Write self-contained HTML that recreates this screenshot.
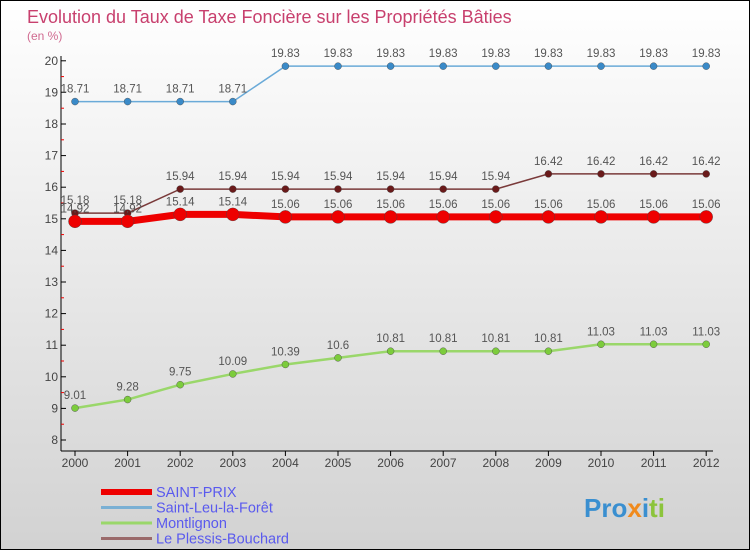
<!DOCTYPE html>
<html><head><meta charset="utf-8"><style>
body{margin:0;width:750px;height:550px;overflow:hidden;font-family:"Liberation Sans",sans-serif}
#wrap{position:relative;width:748px;height:548px;border:1px solid #000;background:linear-gradient(#ffffff,#d2d2d2)}
</style></head><body>
<div id="wrap">
<svg id="chart" width="748" height="548">
<text x="26" y="22" font-size="18" fill="#c8406e">Evolution du Taux de Taxe Foncière sur les Propriétés Bâties</text>
<text x="26" y="39" font-size="12" fill="#d06a90">(en %)</text>
<g id="axes"></g><g id="series"></g><g id="legend"></g>
<text x="583" y="516" font-size="26" font-weight="bold" fill="#3a8fd0">Pro<tspan fill="#f08a1c">x</tspan>i<tspan fill="#8cc43c">ti</tspan></text>
</svg></div>
<script>
const years=["2000","2001","2002","2003","2004","2005","2006","2007","2008","2009","2010","2011","2012"];
const yTicks=[8,9,10,11,12,13,14,15,16,17,18,19,20];
const saintPrix=[14.92,14.92,15.14,15.14,15.06,15.06,15.06,15.06,15.06,15.06,15.06,15.06,15.06];
const saintLeu=[18.71,18.71,18.71,18.71,19.83,19.83,19.83,19.83,19.83,19.83,19.83,19.83,19.83];
const montlignon=[9.01,9.28,9.75,10.09,10.39,10.6,10.81,10.81,10.81,10.81,11.03,11.03,11.03];
const plessis=[15.18,15.18,15.94,15.94,15.94,15.94,15.94,15.94,15.94,16.42,16.42,16.42,16.42];
const seriesNames=["SAINT-PRIX","Saint-Leu-la-Forêt","Montlignon","Le Plessis-Bouchard"];
const NS="http://www.w3.org/2000/svg";
const X=i=>74+i*52.6, Y=v=>439-(v-8)*31.6;
function mk(t,a,p){const e=document.createElementNS(NS,t);for(const k in a)e.setAttribute(k,a[k]);p.appendChild(e);return e;}
const ax=document.getElementById('axes');
let l=mk('line',{x1:60,y1:55,x2:60,y2:450,stroke:'#000'},ax);

l=mk('line',{x1:60,y1:450,x2:712,y2:450,stroke:'#000'},ax);

yTicks.forEach(v=>{mk('line',{x1:60,y1:Y(v),x2:65,y2:Y(v),stroke:'#000'},ax);
 if(v<20)mk('line',{x1:60,y1:Y(v+0.5),x2:63,y2:Y(v+0.5),stroke:'#e00'},ax);
 const t=mk('text',{x:57,y:Y(v)+4,'font-size':12,'text-anchor':'end',fill:'#444'},ax);t.textContent=v;
 });
years.forEach((y,i)=>{mk('line',{x1:X(i),y1:450,x2:X(i),y2:455,stroke:'#000'},ax);
 const t=mk('text',{x:X(i),y:466,'font-size':12,'text-anchor':'middle',fill:'#444'},ax);t.textContent=y;
 });
const sg=document.getElementById('series');
function draw(data,color,w,r,dot,name){
 const g=mk('g',{},sg);
 mk('polyline',{points:data.map((v,i)=>X(i)+','+Y(v)).join(' '),fill:'none',stroke:color,'stroke-width':w},g);
 data.forEach((v,i)=>{const c=mk('circle',{cx:X(i),cy:Y(v),r:r,fill:dot,stroke:'#444','stroke-width':0.4},g);
  
  const t=mk('text',{x:X(i),y:Y(v)-9,'font-size':11.5,'text-anchor':'middle',fill:'#555'},g);t.textContent=v;
  });
}
draw(montlignon,'#9ad76a',2.5,3.5,'#7ccc3c','series-montlignon');
draw(saintLeu,'#6aaad8',1.5,3.5,'#3a8ac8','series-saint-leu');
draw(plessis,'#7a3a3a',1.5,3.5,'#6a1a1a','series-plessis');
draw(saintPrix,'#ee0000',7,6.5,'#ee0000','series-saint-prix');
const lg=document.getElementById('legend');
const lc=['#ee0000','#7ab0d4','#9ad76a','#9a6a6a'],lw=[6,3,3,3];
seriesNames.forEach((n,i)=>{const g=mk('g',{},lg);
 const y=491+i*15.5;mk('line',{x1:100,y1:y,x2:151,y2:y,stroke:lc[i],'stroke-width':lw[i]},g);
 const t=mk('text',{x:155,y:y+5,'font-size':14.5,fill:'#5a5aee'},g);t.textContent=n;});
</script></body></html>
